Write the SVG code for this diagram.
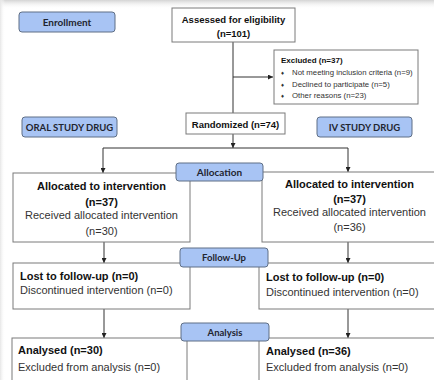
<svg xmlns="http://www.w3.org/2000/svg" width="434" height="380" viewBox="0 0 434 380">
<defs>
<linearGradient id="topShade" x1="0" y1="0" x2="0" y2="1">
<stop offset="0" stop-color="#d4d4d4"/>
<stop offset="1" stop-color="#ffffff" stop-opacity="0"/>
</linearGradient>
<linearGradient id="leftShade" x1="0" y1="0" x2="1" y2="0">
<stop offset="0" stop-color="#e6e6e6"/>
<stop offset="1" stop-color="#ffffff" stop-opacity="0"/>
</linearGradient>
<marker id="arr" viewBox="0 0 6 6" refX="6" refY="3" markerWidth="5" markerHeight="5" orient="auto" markerUnits="userSpaceOnUse">
<path d="M0,0 L6,3 L0,6 z" fill="#222"/>
</marker>
</defs>
<style>
.box{fill:#ffffff;stroke:#7a7a7a;stroke-width:1}
.tag{fill:#a8c4f4;stroke:#5f6f86;stroke-width:1}
.tagt{font-family:Lato,"Open Sans",sans-serif;font-weight:700;fill:#1f2530;text-anchor:middle}
.b{font-family:"Liberation Sans",Arial,sans-serif;font-weight:700;fill:#111}
.r{font-family:"Liberation Sans",Arial,sans-serif;fill:#333}
.c{text-anchor:middle}
.ln{fill:none;stroke:#333;stroke-width:1}
</style>
<rect x="0" y="0" width="434" height="380" fill="#ffffff"/>
<rect x="0" y="0" width="434" height="9" fill="url(#topShade)"/>
<rect x="0" y="0" width="5" height="380" fill="url(#leftShade)"/>

<g id="connectors">
<line class="ln" x1="233" y1="42" x2="233" y2="113"/>
<line class="ln" x1="233" y1="77" x2="273" y2="77" marker-end="url(#arr)"/>
<line class="ln" x1="233" y1="134" x2="233" y2="148" marker-end="url(#arr)"/>
<line class="ln" x1="103" y1="148" x2="348" y2="148"/>
<line class="ln" x1="103" y1="148" x2="103" y2="173" marker-end="url(#arr)"/>
<line class="ln" x1="348" y1="148" x2="348" y2="172" marker-end="url(#arr)"/>
<line class="ln" x1="104" y1="242" x2="104" y2="263" marker-end="url(#arr)"/>
<line class="ln" x1="348" y1="242" x2="348" y2="263" marker-end="url(#arr)"/>
<line class="ln" x1="104" y1="309" x2="104" y2="338" marker-end="url(#arr)"/>
<line class="ln" x1="348" y1="309" x2="348" y2="338" marker-end="url(#arr)"/>
</g>

<g id="enrollment">
<rect class="tag" x="19" y="12" width="96" height="20" rx="3"/>
<text class="tagt" x="67" y="26" font-size="10">Enrollment</text>
</g>

<g id="assessed">
<rect class="box" x="172" y="8" width="123" height="34"/>
<text class="b c" x="233.5" y="22.5" font-size="9.5">Assessed for eligibility</text>
<text class="b c" x="233.5" y="36.5" font-size="9.5">(n=101)</text>
</g>

<g id="excluded">
<rect class="box" x="274" y="50" width="144" height="54"/>
<text class="b" x="281" y="63" font-size="8">Excluded (n=37)</text>
<text class="r" x="281" y="75" font-size="6" fill="#111">♦</text>
<text class="r" x="292" y="75" font-size="7.8">Not meeting inclusion criteria (n=9)</text>
<text class="r" x="281" y="86.5" font-size="6" fill="#111">♦</text>
<text class="r" x="292" y="86.5" font-size="7.8">Declined to participate (n=5)</text>
<text class="r" x="281" y="98" font-size="6" fill="#111">♦</text>
<text class="r" x="292" y="98" font-size="7.8">Other reasons (n=23)</text>
</g>

<g id="oral">
<rect class="tag" x="22" y="117" width="95" height="20" rx="3"/>
<text class="tagt" x="69.5" y="130.5" font-size="9.5">ORAL STUDY DRUG</text>
</g>

<g id="randomized">
<rect class="box" x="186" y="113" width="99" height="21"/>
<text class="b c" x="235.5" y="127.5" font-size="9.5">Randomized (n=74)</text>
</g>

<g id="iv">
<rect class="tag" x="317" y="117" width="95" height="20" rx="3"/>
<text class="tagt" x="364.5" y="130.5" font-size="9.5">IV STUDY DRUG</text>
</g>

<g id="alloc-left">
<rect class="box" x="13" y="173" width="177" height="69"/>
<text class="b c" x="101.5" y="190" font-size="11">Allocated to intervention</text>
<text class="b c" x="101.5" y="206" font-size="11">(n=37)</text>
<text class="r c" x="101.5" y="219" font-size="11">Received allocated intervention</text>
<text class="r c" x="101.5" y="235" font-size="11">(n=30)</text>
</g>

<g id="alloc-right">
<rect class="box" x="262" y="172" width="180" height="70"/>
<text class="b c" x="349.5" y="188" font-size="11">Allocated to intervention</text>
<text class="b c" x="349.5" y="203" font-size="11">(n=37)</text>
<text class="r c" x="349.5" y="216" font-size="11">Received allocated intervention</text>
<text class="r c" x="349.5" y="231" font-size="11">(n=36)</text>
</g>

<g id="allocation">
<rect class="tag" x="176" y="163" width="87" height="18" rx="3"/>
<text class="tagt" x="219.5" y="176" font-size="10">Allocation</text>
</g>

<g id="lost-left">
<rect class="box" x="13" y="263" width="177" height="46"/>
<text class="b" x="20" y="280" font-size="11">Lost to follow-up (n=0)</text>
<text class="r" x="20" y="294" font-size="11">Discontinued intervention (n=0)</text>
</g>

<g id="lost-right">
<rect class="box" x="259" y="263" width="183" height="46"/>
<text class="b" x="266" y="281" font-size="11">Lost to follow-up (n=0)</text>
<text class="r" x="266" y="296" font-size="11">Discontinued intervention (n=0)</text>
</g>

<g id="followup">
<rect class="tag" x="180" y="248" width="88" height="19" rx="3"/>
<text class="tagt" x="224" y="261" font-size="9.5">Follow-Up</text>
</g>

<g id="analysed-left">
<rect class="box" x="12" y="338" width="175" height="50"/>
<text class="b" x="18" y="354" font-size="11">Analysed (n=30)</text>
<text class="r" x="18" y="371" font-size="11">Excluded from analysis (n=0)</text>
</g>

<g id="analysed-right">
<rect class="box" x="259" y="338" width="183" height="50"/>
<text class="b" x="266" y="355" font-size="11">Analysed (n=36)</text>
<text class="r" x="266" y="371" font-size="11">Excluded from analysis (n=0)</text>
</g>

<g id="analysis">
<rect class="tag" x="181" y="323" width="88" height="18" rx="3"/>
<text class="tagt" x="225" y="336" font-size="9.5">Analysis</text>
</g>
</svg>
